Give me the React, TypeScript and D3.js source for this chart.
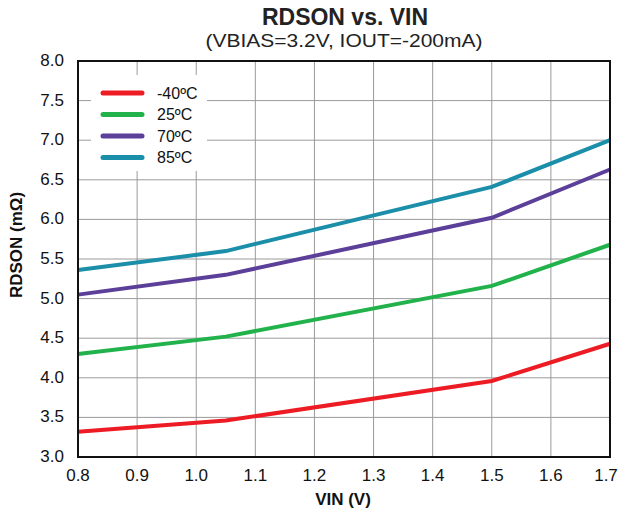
import React from 'react';
import * as d3 from 'd3';

const vin = [0.8, 1.05, 1.5, 1.7];
const seriesNames = ['-40ºC', '25ºC', '70ºC', '85ºC'];
const seriesColors = ['#ed1c24', '#22b24c', '#5b3f99', '#1b8eaa'];
const rdsonM40 = [3.32, 3.46, 3.96, 4.43];
const rdson25 = [4.3, 4.52, 5.16, 5.68];
const rdson70 = [5.05, 5.3, 6.02, 6.63];
const rdson85 = [5.36, 5.6, 6.41, 7.0];
const seriesValues = [rdsonM40, rdson25, rdson70, rdson85];
const xTicks = [0.8, 0.9, 1.0, 1.1, 1.2, 1.3, 1.4, 1.5, 1.6, 1.7];
const yTicks = [3.0, 3.5, 4.0, 4.5, 5.0, 5.5, 6.0, 6.5, 7.0, 7.5, 8.0];

const W = 620;
const H = 515;
const m = { left: 78, right: 10, top: 61, bottom: 58 };

export default function App() {
  const x = d3.scaleLinear().domain([0.8, 1.7]).range([m.left, W - m.right]);
  const y = d3.scaleLinear().domain([3, 8]).range([H - m.bottom, m.top]);
  const line = d3.line<number>()
    .x((_, i) => x(vin[i]))
    .y(d => y(d));
  const font = 'Arial, "Liberation Sans", sans-serif';

  return (
    <svg width={W} height={H} style={{ position: 'absolute', left: 0, top: 0, fontFamily: font }}>
      <rect width={W} height={H} fill="#fff" />
      {xTicks.map(t => (
        <line key={'gx' + t} x1={x(t)} x2={x(t)} y1={y(8)} y2={y(3)} stroke="#9a9a9a" strokeWidth={1} />
      ))}
      {yTicks.map(t => (
        <line key={'gy' + t} x1={x(0.8)} x2={x(1.7)} y1={y(t)} y2={y(t)} stroke="#9a9a9a" strokeWidth={1} />
      ))}
      {seriesValues.map((s, i) => (
        <path key={i} d={line(s) || ''} fill="none" stroke={seriesColors[i]} strokeWidth={4} />
      ))}
      <rect x={x(0.8)} y={y(8)} width={x(1.7) - x(0.8)} height={y(3) - y(8)} fill="none" stroke="#111" strokeWidth={2} />
      <rect x={91} y={75} width={116} height={96} fill="#fff" />
      {seriesNames.map((n, i) => (
        <g key={n} transform={`translate(0,${93 + i * 21.5})`}>
          <line x1={103} x2={142} y1={0} y2={0} stroke={seriesColors[i]} strokeWidth={5} strokeLinecap="round" />
          <text x={157} y={5.5} fontSize={16} fill="#111">{n}</text>
        </g>
      ))}
      {xTicks.map(t => (
        <text key={'tx' + t} x={Math.min(x(t), W - 14)} y={481} fontSize={17} textAnchor="middle" fill="#111">{t.toFixed(1)}</text>
      ))}
      {yTicks.map(t => (
        <text key={'ty' + t} x={64} y={y(t) + 5} fontSize={17} textAnchor="end" fill="#111">{t.toFixed(1)}</text>
      ))}
      <text x={345} y={25} fontSize={23} fontWeight="bold" textAnchor="middle" fill="#222">RDSON vs. VIN</text>
      <text x={344} y={47} fontSize={19} textAnchor="middle" textLength={277} lengthAdjust="spacingAndGlyphs" fill="#222">(VBIAS=3.2V, IOUT=-200mA)</text>
      <text x={343} y={505} fontSize={17} fontWeight="bold" textAnchor="middle" fill="#111">VIN (V)</text>
      <text transform={`translate(22,245) rotate(-90)`} fontSize={17} fontWeight="bold" textAnchor="middle" fill="#111">RDSON (mΩ)</text>
    </svg>
  );
}
